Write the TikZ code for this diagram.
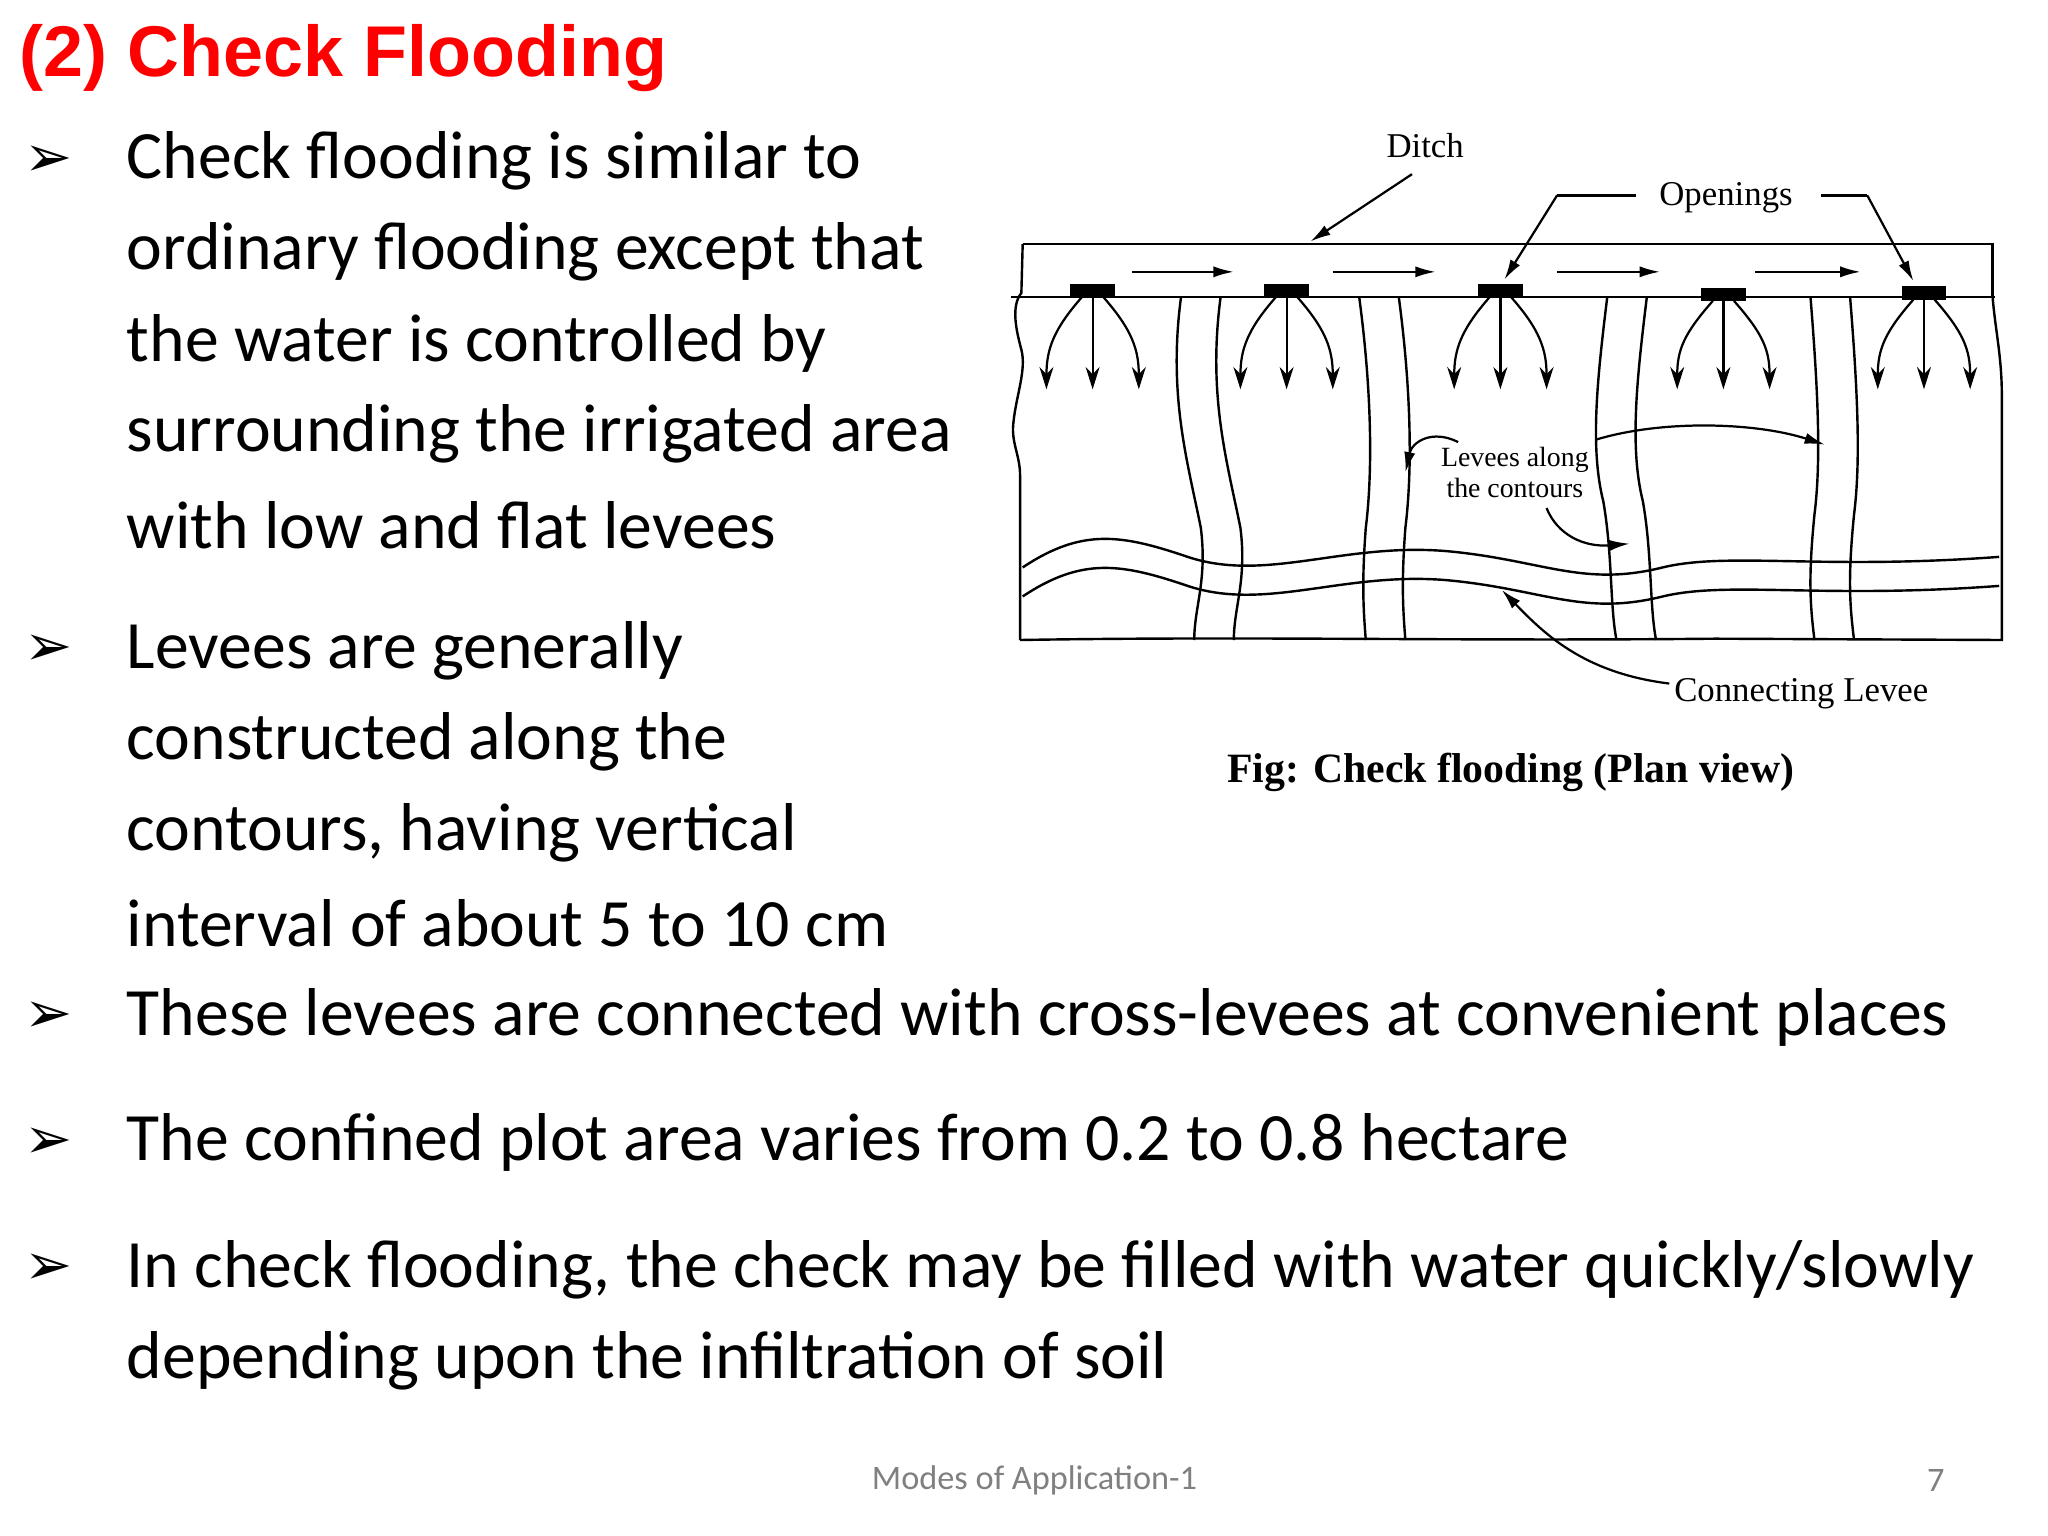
\documentclass[tikz,border=0pt]{standalone}
\usepackage{fontspec}
\setmainfont{Carlito}
\newfontfamily\arial{Liberation Sans}
\newfontfamily\tnr{Liberation Serif}
\newfontfamily\dv{DejaVu Sans}
\usetikzlibrary{arrows.meta}
\begin{document}
\begin{tikzpicture}[x=0.05cm,y=-0.05cm,
  body/.style={anchor=west,inner sep=0,font=\fontsize{73}{76}\selectfont},
  bul/.style={anchor=center,inner sep=0,font=\dv\fontsize{62}{64}\selectfont},
  lbl/.style={inner sep=0,font=\tnr\fontsize{37.5}{40}\selectfont},
  ln/.style={line width=2.6pt},
  ar/.style={line width=2.4pt,-{Latex[length=22pt,width=12pt]}},
  ars/.style={line width=2.4pt,-{Stealth[length=24pt,width=15pt]}}]
\useasboundingbox (0,0) rectangle (1552,1164);
\fill[white] (0,0) rectangle (1552,1164);
\node[anchor=west,inner sep=0,text=red,font=\arial\bfseries\fontsize{77.5}{80}\selectfont] (title) at (15,44) {(2) Check Flooding};
% bullets
\foreach \y/\n in {122/b1,493/b2,771/b3,866/b4,962/b5}{\node[bul] (\n) at (37,\y) {➢};}
\node[body] (t1) at (96,122) {Check flooding is similar to};
\node[body] (t2) at (96,191) {ordinary flooding except that};
\node[body] (t3) at (96,260) {the water is controlled by};
\node[body] (t4) at (96,329) {surrounding the irrigated area};
\node[body] (t5) at (96,398) {with low and flat levees};
\node[body] (t6) at (96,493) {Levees are generally};
\node[body] (t7) at (96,562) {constructed along the};
\node[body] (t8) at (96,631) {contours, having vertical};
\node[body] (t9) at (96,700) {interval of about 5 to 10 cm};
\node[body] (t10) at (96,771) {These levees are connected with cross-levees at convenient places};
\node[body] (t11) at (96,866) {The confined plot area varies from 0.2 to 0.8 hectare};
\node[body] (t12) at (96,962) {In check flooding, the check may be filled with water quickly/slowly};
\node[body] (t13) at (96,1031) {depending upon the infiltration of soil};
\node[text=gray,inner sep=0,font=\fontsize{37}{40}\selectfont] (foot) at (784,1122) {Modes of Application-1};
\node[text=gray,inner sep=0,font=\fontsize{37}{40}\selectfont] (pg) at (1467,1122) {7};
% diagram frame
\draw[ln] (775,185) -- (1510,185) -- (1510,225);
\draw[ln] (766,225) -- (1512,225);
\draw[ln] (775,185) -- (774,222) .. controls (766,232) and (770,250) .. (774,265) .. controls (778,280) and (770,300) .. (768,320) .. controls (766,335) and (773,345) .. (773,360) -- (773,485);
\draw[ln] (773,485) .. controls (950,482) and (1100,486) .. (1300,484) -- (1517,485) -- (1517,300) .. controls (1517,270) and (1512,250) .. (1510,225);
% openings
\foreach \x/\yy/\n in {828/215/o1,975/215/o2,1137/215/o3,1306/218/o4,1458/217/o5}{
  \fill (\x-17,\yy) rectangle (\x+17,\yy+10);
  \coordinate (\n) at (\x,\yy+10);
  \draw[ars] (\x,\yy+10) -- (\x,295);
  \draw[ars] (\x-8,\yy+10) .. controls (\x-30,\yy+35) and (\x-35,265) .. (\x-35,295);
  \draw[ars] (\x+8,\yy+10) .. controls (\x+30,\yy+35) and (\x+35,265) .. (\x+35,295);
}
% ditch flow arrows
\foreach \a/\b in {858/935,1010/1088,1180/1258,1330/1410}{\draw[ar] (\a,206) -- (\b,206);}
% vertical levees
\foreach \s in {0,30}{
 \draw[ln] (895+\s,225) .. controls (885+\s,300) and (900+\s,350) .. (910+\s,400) .. controls (915+\s,440) and (905+\s,460) .. (905+\s,485);
 \draw[ln] (1030+\s,225) .. controls (1040+\s,300) and (1040+\s,360) .. (1035+\s,400) .. controls (1032+\s,440) and (1033+\s,460) .. (1035+\s,485);
 \draw[ln] (1218+\s,225) .. controls (1210+\s,290) and (1205+\s,340) .. (1215+\s,380) .. controls (1222+\s,420) and (1220+\s,460) .. (1225+\s,485);
 \draw[ln] (1372+\s,225) .. controls (1378+\s,300) and (1380+\s,350) .. (1375+\s,390) .. controls (1370+\s,440) and (1372+\s,460) .. (1375+\s,485);
}
% connecting levee
\foreach \s in {0,22}{
 \draw[ln] (775,430+\s) .. controls (820,400+\s) and (850,405+\s) .. (900,422+\s) .. controls (960,442+\s) and (1020,410+\s) .. (1100,418+\s) .. controls (1170,425+\s) and (1200,445+\s) .. (1260,430+\s) .. controls (1310,418+\s) and (1380,432+\s) .. (1515,422+\s);
}
% labels
\node[lbl] (ditch) at (1080,110) {Ditch};
\draw[ar] (1070,132) -- (993,183);
\node[lbl] (open) at (1308,150) {Openings};
\draw[ln] (1240,148) -- (1180,148);
\draw[ar] (1180,148) -- (1140,212);
\draw[ln] (1380,148) -- (1415,148);
\draw[ar] (1415,148) -- (1450,213);
\node[lbl,align=center,font=\tnr\fontsize{30}{33}\selectfont] (lev) at (1148,358) {Levees along\\the contours};
\draw[ar] (1105,335) .. controls (1085,325) and (1070,335) .. (1065,358);
\draw[ar] (1210,333) .. controls (1260,318) and (1330,320) .. (1383,337);
\draw[ar] (1172,385) .. controls (1180,405) and (1200,415) .. (1235,412);
\node[lbl] (con) at (1365,526) {Connecting Levee};
\draw[ar] (1265,518) .. controls (1200,510) and (1170,480) .. (1138,447);
\node[inner sep=0,font=\tnr\bfseries\fontsize{45}{48}\selectfont] (cap) at (1145,585) {Fig: Check flooding (Plan view)};
\end{tikzpicture}
\end{document}
